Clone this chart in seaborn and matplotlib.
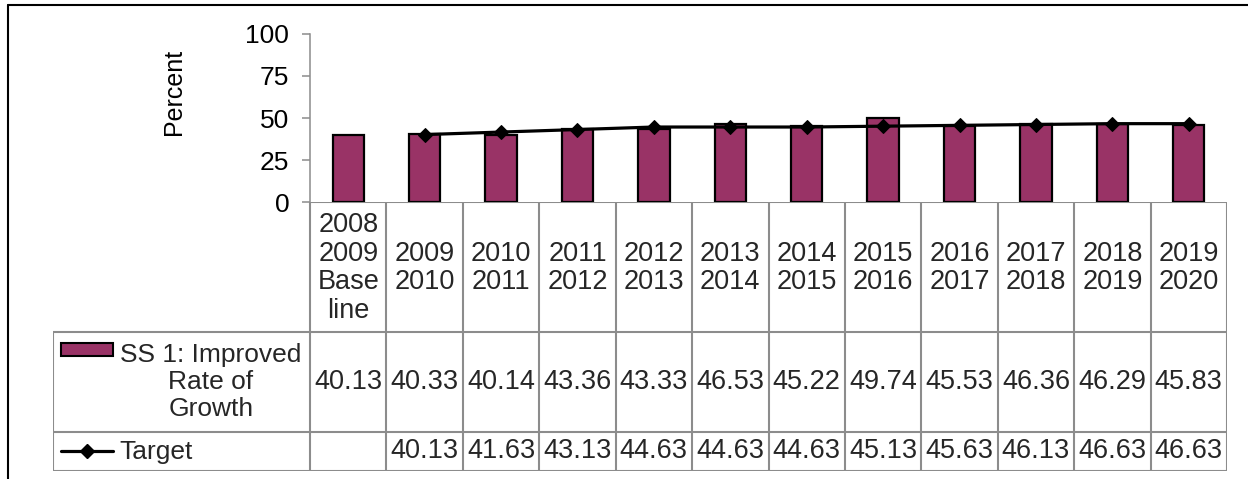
import numpy as np
import pandas as pd
import matplotlib.pyplot as plt
from matplotlib.lines import Line2D
from matplotlib.patches import Rectangle
import seaborn as sns

sns.set_theme(style="white")
plt.rcParams['font.family'] = ['Liberation Sans', 'DejaVu Sans']

# data
periods = ["2008\n2009\nBase\nline", "2009\n2010", "2010\n2011", "2011\n2012",
           "2012\n2013", "2013\n2014", "2014\n2015", "2015\n2016", "2016\n2017",
           "2017\n2018", "2018\n2019", "2019\n2020"]
growth = [40.13, 40.33, 40.14, 43.36, 43.33, 46.53, 45.22, 49.74, 45.53, 46.36, 46.29, 45.83]
target = [np.nan, 40.13, 41.63, 43.13, 44.63, 44.63, 44.63, 45.13, 45.63, 46.13, 46.63, 46.63]
series_names = ["SS 1: Improved\nRate of\nGrowth", "Target"]
yticks = [0, 25, 50, 75, 100]

bar_color = "#993366"
grid_color = "#8c8c8c"
fs = 19.5

W, H = 1248, 479
fig = plt.figure(figsize=(W / 100, H / 100), dpi=100)

# pixel layout
x_left, x_right = 310, 1227
y_top, y_zero = 34, 202
lab_left = 53
ncat = len(periods)
colw = (x_right - x_left) / ncat

ax = fig.add_axes([x_left / W, 1 - y_zero / H, (x_right - x_left) / W, (y_zero - y_top) / H])
df = pd.DataFrame({"period": periods, "growth": growth, "target": target})
sns.barplot(data=df, x="period", y="growth", order=periods, color=bar_color,
            saturation=1, width=0.41, edgecolor="black", linewidth=1.6, ax=ax, zorder=2)
pos = np.arange(ncat)
sns.lineplot(x=pos, y=df["target"], color="black", lw=2.3, marker="D", markersize=7.5,
             markeredgecolor="black", estimator=None, ax=ax, zorder=3)
ax.set_xlim(-0.5, ncat - 0.5)
ax.set_ylim(0, 100)
ax.set_xticks([])
ax.set_xlabel("")
ax.set_yticks(yticks)
ax.tick_params(axis="y", left=True, length=6, width=1.1, color=grid_color,
               labelsize=19, pad=9, labelcolor="black")
for s in ["top", "right", "bottom"]:
    ax.spines[s].set_visible(False)
ax.spines["left"].set_color(grid_color)
ax.spines["left"].set_linewidth(1.1)
ax.set_ylabel("Percent", fontsize=18, color="black")
ax.yaxis.set_label_coords((186 - x_left) / (x_right - x_left), (y_zero - 92) / (y_zero - y_top))

# data table below
r_head, r_ser, r_tgt = 130, 100, 39
tab_h = r_head + r_ser + r_tgt
lab_w = (x_left - lab_left) / colw
tab = fig.add_axes([lab_left / W, 1 - (y_zero + tab_h) / H, (x_right - lab_left) / W, tab_h / H])
tab.set_xlim(-0.5 - lab_w, ncat - 0.5)
tab.set_ylim(tab_h, 0)
tab.axis("off")

lw = 1.5
y1, y2 = r_head, r_head + r_ser
tab.vlines(np.arange(ncat + 1) - 0.5, 0, tab_h, color=grid_color, lw=lw)
tab.vlines(-0.5 - lab_w, y1, tab_h, color=grid_color, lw=lw)
tab.hlines(0, -0.5, ncat - 0.5, color=grid_color, lw=lw)
tab.hlines([y1, y2, tab_h], -0.5 - lab_w, ncat - 0.5, color=grid_color, lw=lw)

for i in range(ncat):
    tab.text(i, r_head / 2 + 1, periods[i], ha="center", va="center", fontsize=fs,
             linespacing=1.12)
    tab.text(i, y1 + r_ser / 2, f"{growth[i]:.2f}", ha="center", va="center", fontsize=fs)
    if not np.isnan(target[i]):
        tab.text(i, y2 + r_tgt / 2, f"{target[i]:.2f}", ha="center", va="center", fontsize=fs)

# series labels with legend keys
x0 = -0.5 - lab_w
px = 1 / colw
tab.add_patch(Rectangle((x0 + 8 * px, y1 + 11), 52 * px, 13, facecolor=bar_color,
                        edgecolor="black", lw=1.5))
tab.text(x0 + 158 * px, y1 + r_ser / 2, series_names[0], ha="center", va="center",
         fontsize=19, multialignment="center", linespacing=1.15)
tab.plot([x0 + 8 * px, x0 + 60 * px], [y2 + r_tgt / 2 - 1] * 2, color="black", lw=2.3)
tab.plot([x0 + 34 * px], [y2 + r_tgt / 2 - 1], marker="D", color="black", markersize=7.5)
tab.text(x0 + 66 * px, y2 + r_tgt / 2, series_names[1], ha="left", va="center", fontsize=19)

# chart border (top and left)
fig.add_artist(Line2D([8 / W, 1], [1 - 5 / H, 1 - 5 / H], color="black", lw=1.5))
fig.add_artist(Line2D([8 / W, 8 / W], [0, 1 - 5 / H], color="black", lw=1.5))

plt.savefig("out.png")
